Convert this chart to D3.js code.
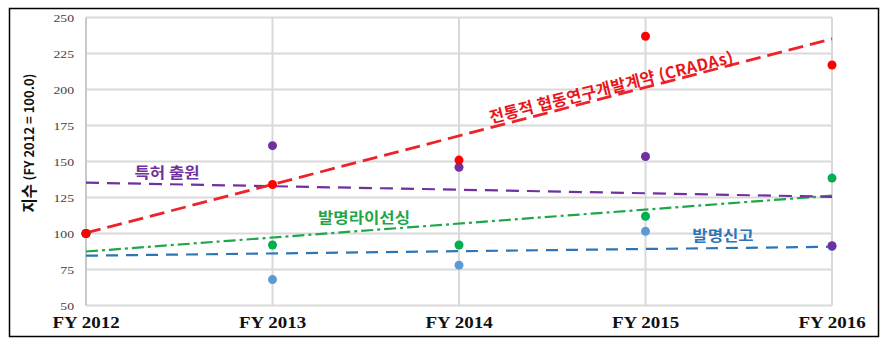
<!DOCTYPE html>
<html>
<head>
<meta charset="utf-8">
<script src="https://cdn.jsdelivr.net/npm/d3@7"></script>
<style>
  body { margin: 0; background: #fff; }
  svg { display: block; }
</style>
</head>
<body>
<div id="chart"></div>
<script>
// index values, FY 2012 = 100
const years = ["FY 2012", "FY 2013", "FY 2014", "FY 2015", "FY 2016"];
const cradas = [100, 134, 151, 237, 217];
const patents = [100, 161, 146, 153.5, 91.5];
const licensing = [100, 92, 92, 112, 138.5];
const disclosures = [100, 68, 78, 101.5, 91];
const yTicks = [50, 75, 100, 125, 150, 175, 200, 225, 250];

const W = 889, H = 347;
const plotLeft = 86, plotRight = 832, plotTop = 17.5, plotBottom = 305.5;
const kr = "'Noto Sans CJK KR', 'Noto Sans', sans-serif";
const serif = "'Liberation Serif', 'DejaVu Serif', serif";

// dots drawn in this order so red sits on top at FY 2012
const series = [
  {values: disclosures, dot: "#5b9bd5", line: "#2e75b6", dash: "12,8", width: 2.2},
  {values: licensing, dot: "#00b050", line: "#1fa64a", dash: "12,4,3,4", width: 2.2},
  {values: patents, dot: "#7030a0", line: "#7030a0", dash: "13,8", width: 2.2},
  {values: cradas, dot: "#ff0000", line: "#ee2229", dash: "15,7", width: 2.8}
];

const svg = d3.select("#chart").append("svg")
  .attr("width", W)
  .attr("height", H);

const x = d3.scalePoint().domain(years).range([plotLeft, plotRight]);
const y = d3.scaleLinear().domain([50, 250]).range([plotBottom, plotTop]);

// grid
const grid = svg.append("g");
grid.selectAll("line.h")
  .data(yTicks)
  .enter().append("line")
  .attr("class", "h")
  .attr("x1", plotLeft).attr("x2", plotRight)
  .attr("y1", d => y(d)).attr("y2", d => y(d))
  .attr("stroke", "#d9d9d9")
  .attr("stroke-width", 2);
grid.selectAll("line.v")
  .data(years)
  .enter().append("line")
  .attr("class", "v")
  .attr("x1", d => x(d)).attr("x2", d => x(d))
  .attr("y1", plotTop).attr("y2", plotBottom)
  .attr("stroke", d => d == years[0] ? "#c8c8c8" : "#d9d9d9")
  .attr("stroke-width", 2);

// y tick labels
svg.append("g").selectAll("text")
  .data(yTicks)
  .enter().append("text")
  .attr("transform", d => "translate(74," + (y(d) + 4) + ") scale(1.25,1)")
  .attr("text-anchor", "end")
  .attr("font-family", serif)
  .attr("font-size", 11)
  .attr("fill", "#404040")
  .text(d => d);

// x labels
svg.append("g").selectAll("text")
  .data(years)
  .enter().append("text")
  .attr("transform", d => "translate(" + x(d) + ",328) scale(1.15,1)")
  .attr("text-anchor", "middle")
  .attr("font-family", serif)
  .attr("font-weight", "bold")
  .attr("font-size", 16.5)
  .attr("fill", "#111")
  .text(d => d);

// y axis title
const yTitle = svg.append("text")
  .attr("transform", "translate(28,143) rotate(-90)")
  .attr("text-anchor", "middle")
  .attr("dominant-baseline", "central")
  .attr("font-family", kr)
  .attr("font-weight", "bold")
  .attr("fill", "#111");
yTitle.append("tspan").attr("font-size", 15.5).text("지수 ");
yTitle.append("tspan").attr("font-size", 13).text("(FY 2012 = 100.0)");

// least squares trend for each series
function trend(vals) {
  const n = vals.length;
  const mx = d3.mean(vals, (v, i) => i);
  const my = d3.mean(vals);
  let sxy = 0, sxx = 0;
  vals.forEach((v, i) => { sxy += (i - mx) * (v - my); sxx += (i - mx) * (i - mx); });
  const slope = sxy / sxx;
  const b = my - slope * mx;
  return [b, b + slope * (n - 1)];
}

const lines = svg.append("g");
series.forEach(s => {
  const t = trend(s.values);
  lines.append("line")
    .attr("x1", x(years[0])).attr("y1", y(t[0]))
    .attr("x2", x(years[years.length - 1])).attr("y2", y(t[1]))
    .attr("stroke", s.line)
    .attr("stroke-width", s.width)
    .attr("stroke-dasharray", s.dash);
});

const dots = svg.append("g");
series.forEach(s => {
  dots.selectAll(null)
    .data(s.values)
    .enter().append("circle")
    .attr("cx", (d, i) => x(years[i]))
    .attr("cy", d => y(d))
    .attr("r", 4.5)
    .attr("fill", s.dot);
});

// series labels
const labels = [
  {text: "특허 출원", color: "#7030a0", x: 167, y: 172, rot: 0},
  {text: "발명라이선싱", color: "#1fa64a", x: 364, y: 217, rot: 0},
  {text: "발명신고", color: "#2e75b6", x: 723, y: 235, rot: 0},
  {text: "전통적 협동연구개발계약 (CRADAs)", color: "#e8161b", x: 611, y: 86, rot: -14}
];
svg.append("g").selectAll("text")
  .data(labels)
  .enter().append("text")
  .attr("transform", d => "translate(" + d.x + "," + d.y + ") rotate(" + d.rot + ")" + (d.rot ? "" : " scale(1.15,1)"))
  .attr("text-anchor", "middle")
  .attr("dominant-baseline", "central")
  .attr("font-family", kr)
  .attr("font-weight", "bold")
  .attr("font-size", d => d.rot ? 16 : 14.5)
  .attr("letter-spacing", d => d.rot ? 0.4 : 0)
  .attr("fill", d => d.color)
  .text(d => d.text);

// outer frame
svg.append("rect")
  .attr("x", 9.5).attr("y", 8.5)
  .attr("width", 869).attr("height", 328)
  .attr("fill", "none")
  .attr("stroke", "#000")
  .attr("stroke-width", 1.5);
</script>
</body>
</html>
